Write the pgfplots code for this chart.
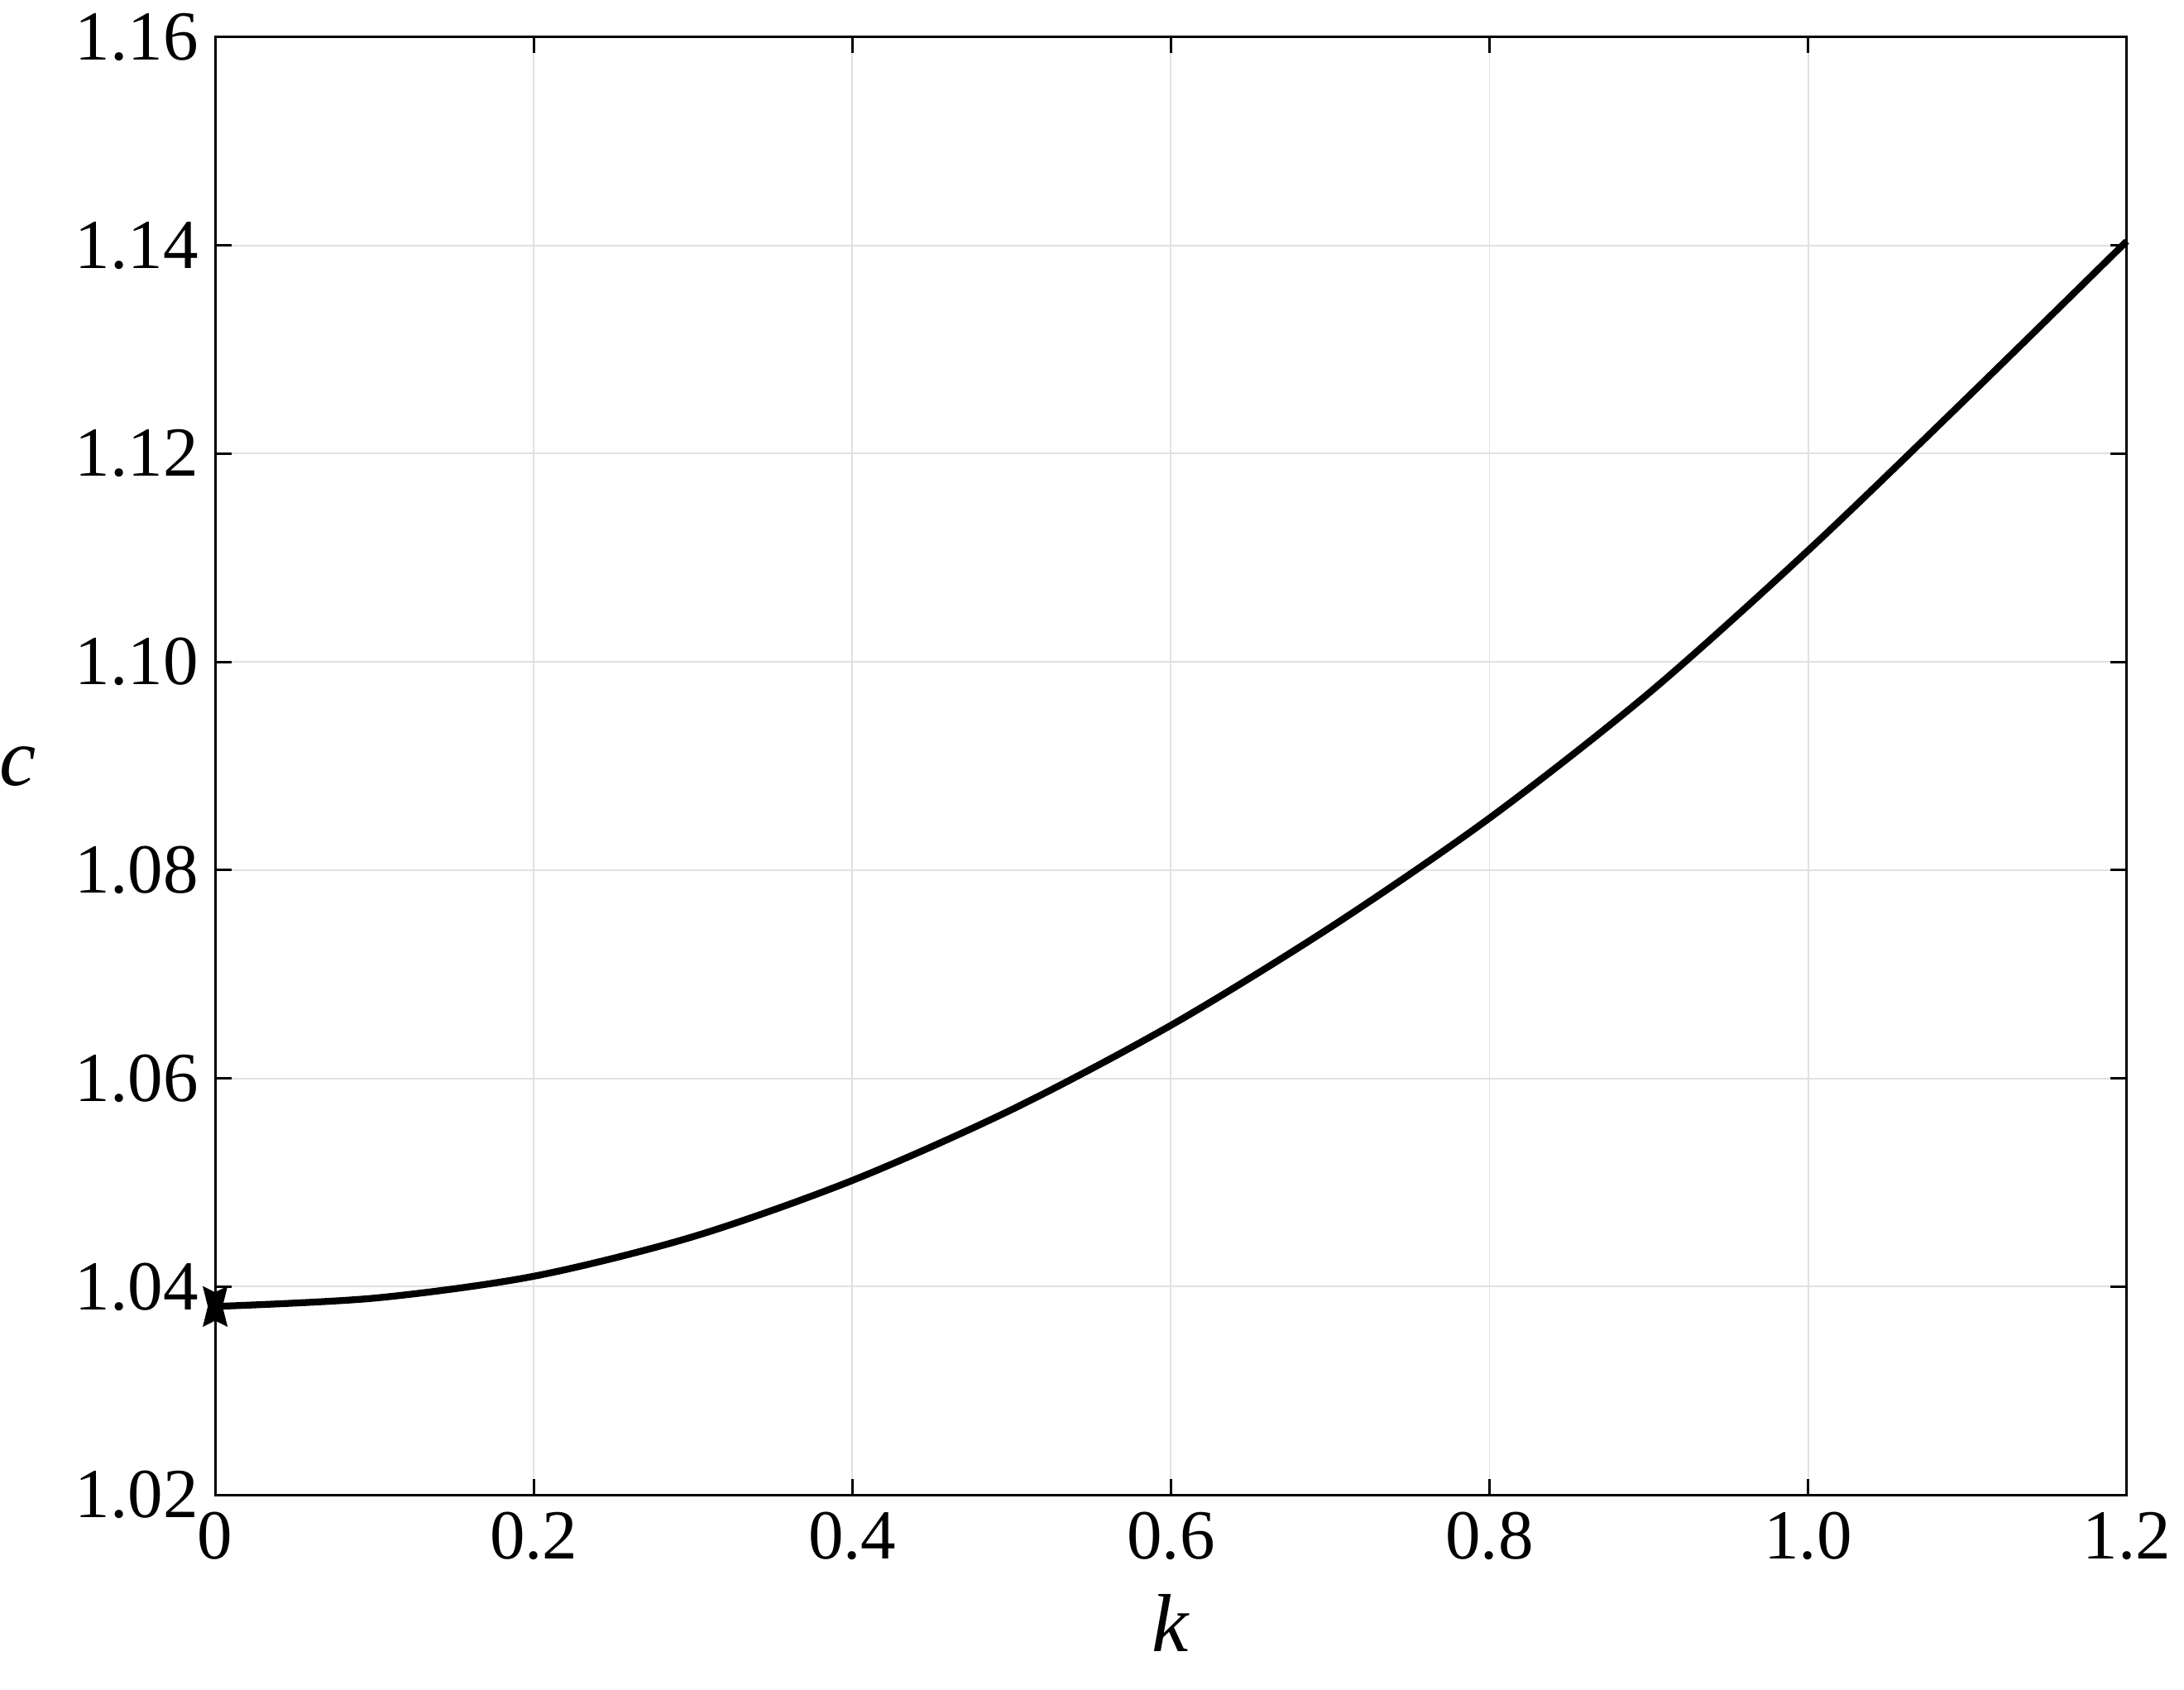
\documentclass[border=0pt]{standalone}
\usepackage{fontspec}
\setmainfont{Liberation Serif}
\usepackage{pgfplots}
\pgfplotsset{compat=1.18}
\definecolor{gridgray}{RGB}{222,226,226}

% four-pointed filled star, as at the start of the curve
\pgfdeclareplotmark{star4}{%
  \pgfpathmoveto{\pgfpoint{-0.6\pgfplotmarksize}{\pgfplotmarksize}}%
  \pgfpathlineto{\pgfpoint{0pt}{0.7\pgfplotmarksize}}%
  \pgfpathlineto{\pgfpoint{0.6\pgfplotmarksize}{\pgfplotmarksize}}%
  \pgfpathlineto{\pgfpoint{0.35\pgfplotmarksize}{0pt}}%
  \pgfpathlineto{\pgfpoint{0.6\pgfplotmarksize}{-\pgfplotmarksize}}%
  \pgfpathlineto{\pgfpoint{0pt}{-0.7\pgfplotmarksize}}%
  \pgfpathlineto{\pgfpoint{-0.6\pgfplotmarksize}{-\pgfplotmarksize}}%
  \pgfpathlineto{\pgfpoint{-0.35\pgfplotmarksize}{0pt}}%
  \pgfpathclose
  \pgfusepathqfillstroke}

\begin{document}
\begin{tikzpicture}
\begin{axis}[
  width=475.7pt, height=362.8pt, scale only axis,
  xmin=0, xmax=1.2, ymin=1.02, ymax=1.16,
  xtick={0,0.2,0.4,0.6,0.8,1.0,1.2},
  xticklabels={\textrm{0},\textrm{0.2},\textrm{0.4},\textrm{0.6},\textrm{0.8},\textrm{1.0},\textrm{1.2}},
  ytick={1.02,1.04,1.06,1.08,1.10,1.12,1.14,1.16},
  yticklabels={\textrm{1.02},\textrm{1.04},\textrm{1.06},\textrm{1.08},\textrm{1.10},\textrm{1.12},\textrm{1.14},\textrm{1.16}},
  tick label style={font=\fontsize{17.5}{20}\selectfont, black},
  xticklabel style={yshift=-0.7pt},
  yticklabel style={xshift=-0.7pt},
  tick align=inside, major tick length=4pt,
  tick style={black, line width=0.6pt},
  axis line style={black, line width=0.6pt},
  grid=major, grid style={gridgray, line width=0.4pt},
  xlabel={\textit{k}\rule[-9.5pt]{0pt}{1pt}}, ylabel={\textit{c}},
  label style={font=\fontsize{20.5}{24}\selectfont},
  xlabel style={at={(axis description cs:0.5,0)}, anchor=south, inner sep=0pt, yshift=-48.7pt},
  ylabel style={rotate=-90, anchor=center, inner sep=0pt, at={(axis description cs:-0.103,0.5)}},
  clip=false,
]
\addplot[black, line width=1.7pt, smooth] coordinates {
  (0,1.0381) (0.1,1.0389) (0.2,1.0410) (0.3,1.0448) (0.4,1.0502)
  (0.5,1.0570) (0.6,1.0651) (0.7,1.0745) (0.8,1.0850) (0.9,1.0970)
  (1.0,1.1107) (1.1,1.1254) (1.2,1.1404)
};
\addplot[black, only marks, mark=star4, mark size=4.8pt,
  mark options={fill=black, line width=0.3pt}] coordinates {(0,1.0381)};
\end{axis}
\end{tikzpicture}
\end{document}
